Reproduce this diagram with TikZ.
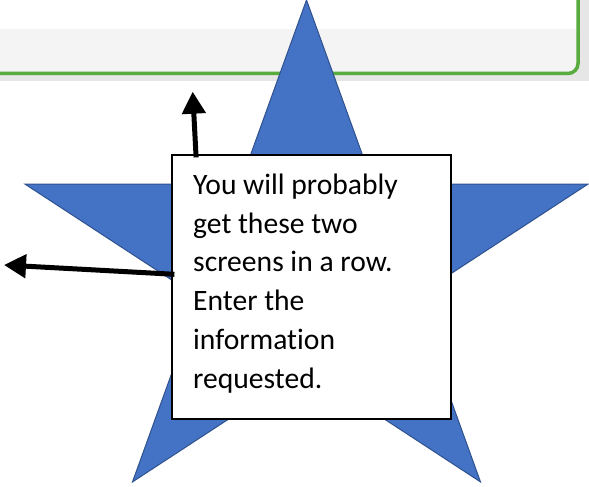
\documentclass[tikz,border=0pt]{standalone}
\usepackage{fontspec}
\setmainfont[Ligatures=NoCommon]{Carlito}
\usetikzlibrary{arrows.meta}
\definecolor{starblue}{RGB}{68,114,196}
\definecolor{stardark}{RGB}{47,82,143}
\definecolor{scrgreen}{RGB}{88,172,62}
\definecolor{scrpanel}{RGB}{244,244,244}
\definecolor{scrshade}{RGB}{230,230,230}
\tikzset{
  arr/.style={line width=5pt, -{Triangle[length=22pt,width=23pt]}},
  calloutbox/.style={draw=black, line width=1.2pt, fill=white, minimum width=279pt, minimum height=264pt, inner sep=0pt},
  startshape/.style={fill=starblue, draw=stardark, line width=1pt, line join=miter},
}
\begin{document}
\begin{tikzpicture}[x=1pt,y=-1pt]
\useasboundingbox (0,0) rectangle (589,487);
% screenshot fragment at top
\fill[scrshade] (0,0) rectangle (589,81.5);
\begin{scope}
  \clip[rounded corners=10pt] (-30,-30) rectangle (578,73.5);
  \fill[white] (-30,-30) rectangle (600,29.3);
  \fill[scrpanel] (-30,29.3) rectangle (600,80);
\end{scope}
\draw[scrgreen, line width=3.5pt, rounded corners=10pt] (-30,-30) rectangle (578,73.5);
% star
\draw[startshape] (306.5,0) -- (373.0,184.1) -- (588.0,184.1) -- (414.0,297.8)
  -- (480.5,481.9) -- (306.5,368.2) -- (132.5,481.9) -- (199.0,297.8)
  -- (25.0,184.1) -- (240.0,184.1) -- cycle;
% callout box
\node[calloutbox] (box) at (311.5,287) {};
\node[anchor=base west, inner sep=0pt] (txt) at (193,194.3) {\fontsize{29.6pt}{38.8pt}\selectfont
  \begin{tabular}[t]{@{}l@{}}You will probably\\ get these two\\ screens in a row.\\ Enter the\\ information\\ requested.\end{tabular}};
% arrows
\coordinate (tipup) at (192.7,91.7);
\coordinate (tipleft) at (4,265);
\draw[arr] ([xshift=24.7pt,yshift=-3pt]box.north west) -- (tipup);
\draw[arr] ([xshift=3pt,yshift=12.7pt]box.west) -- (tipleft);
\end{tikzpicture}
\end{document}
